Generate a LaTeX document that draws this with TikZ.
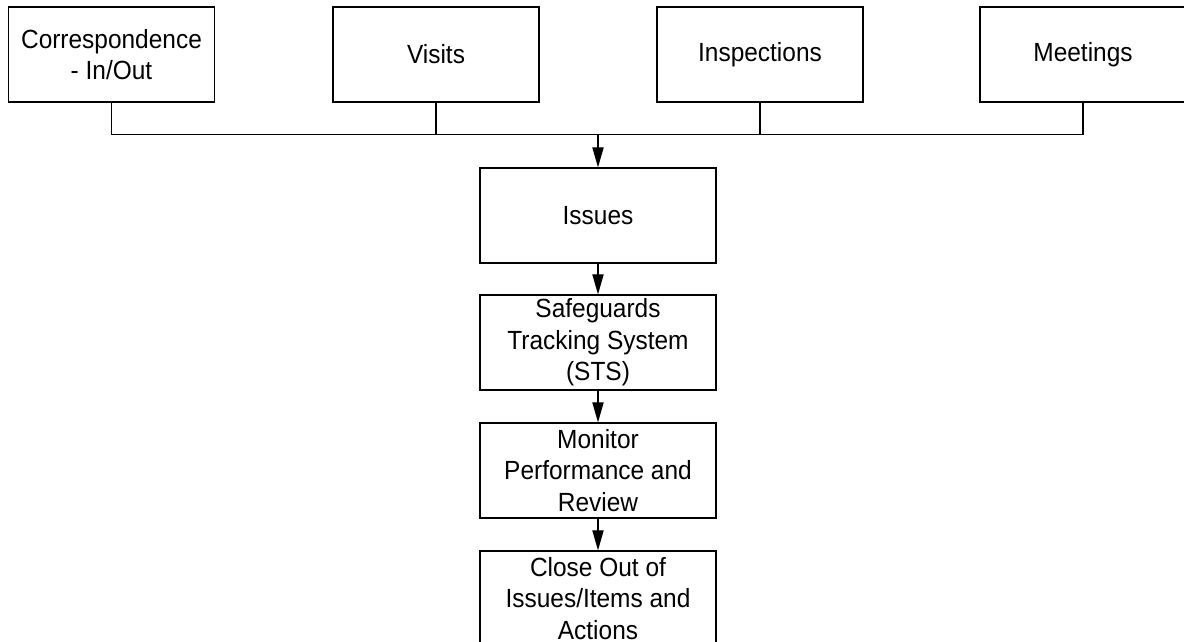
\documentclass[tikz,border=0pt]{standalone}
\usepackage{fontspec}
\setmainfont{Liberation Sans}[FakeStretch=0.93]
\usetikzlibrary{arrows.meta}
\begin{document}
\begin{tikzpicture}[x=0.025cm, y=-0.025cm, line width=0.9pt,
  topbox/.style={draw, minimum width=5.15cm, minimum height=2.375cm, inner sep=0pt, align=center, font=\fontsize{18.7}{22.5}\selectfont},
  stepbox/.style={draw, minimum width=5.9cm, minimum height=2.375cm, inner sep=0pt, align=center, font=\fontsize{18.7}{22.5}\selectfont},
  arr/.style={-{Triangle[length=0.5cm, width=0.28cm]}}]
\clip (0,0) rectangle (1184,641);
\node[topbox] (corr) at (111.5,54.5){Correspondence\\- In/Out};
\node[topbox] (visits) at (436,54.5){Visits};
\node[topbox] (insp) at (760,54.5){Inspections};
\node[topbox] (meet) at (1083,54.5){Meetings};
\coordinate (bus) at (598,134.5);
\node[stepbox] (issues) at (598,215.5){Issues};
\node[stepbox] (sts) at (598,342.5){Safeguards\\Tracking System\\(STS)};
\node[stepbox] (monitor) at (598,470.5){Monitor\\Performance and\\Review};
\node[stepbox] (close) at (598,598.5){Close Out of\\Issues/Items and\\Actions};
\draw[](corr.south) -- (corr.south |- bus) -- (meet.south |- bus) -- (meet.south);
\draw[](visits.south) -- (visits.south |- bus);
\draw[](insp.south) -- (insp.south |- bus);
\draw[arr](bus) -- (issues.north);
\draw[arr](issues) -- (sts);
\draw[arr](sts) -- (monitor);
\draw[arr](monitor) -- (close);
\end{tikzpicture}
\end{document}
